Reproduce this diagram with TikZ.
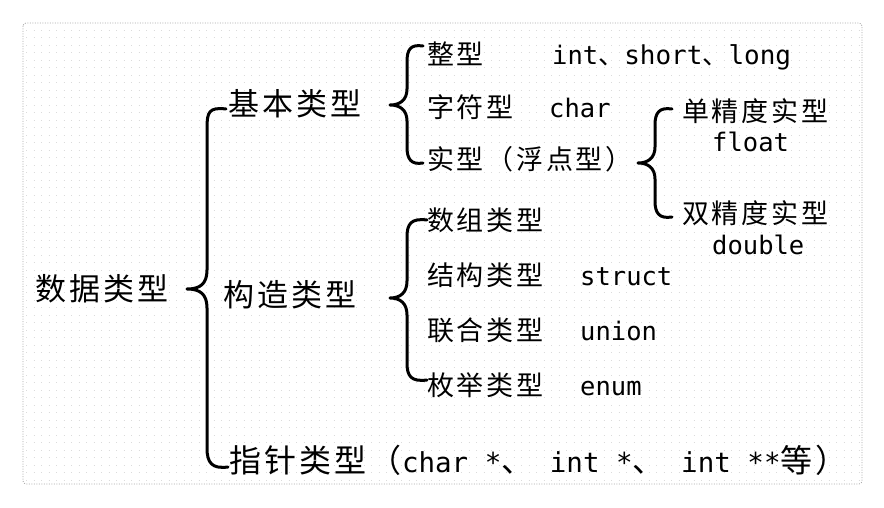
\documentclass[tikz,border=0pt]{standalone}
\usepackage{fontspec}
\newfontfamily\cjk[LetterSpace=10]{Noto Sans CJK SC}
\newfontfamily\mono{DejaVu Sans Mono}
\newcommand\ptrmono{\mono\fontsize{27.5}{32}\selectfont}
\newcommand\ptrcjk{\cjk\fontsize{32}{36}\selectfont}
\tikzset{
  big/.style={font=\cjk\fontsize{31}{36}\selectfont, anchor=base west, inner sep=0pt},
  small/.style={font=\cjk\fontsize{27}{32}\selectfont, anchor=base west, inner sep=0pt},
  lat/.style={font=\mono\fontsize{25.5}{30}\selectfont, anchor=base west, inner sep=0pt},
  bracestroke/.style={line width=3pt, line cap=round, line join=round},
  frame/.style={gray!70, dash pattern=on 1pt off 1.5pt, line width=0.8pt, rounded corners=3pt},
  griddots/.style={gray!28, line width=0.9pt, dash pattern=on 0.9pt off 6.6pt}
}
\begin{document}
\begin{tikzpicture}[x=1pt,y=-1pt]
\useasboundingbox (0,0) rectangle (884,508);
% faint dot grid
\foreach \yy in {30,37.5,...,480} {\draw[griddots] (26,\yy) -- (860,\yy);}
\draw[frame] (23,23) rectangle (862,484);

% texts
\node[big] (root) at (35,300) {数据类型};
\node[big] (basic) at (228,116) {基本类型};
\node[big] (cons) at (223,306) {构造类型};
\node[big] (ptr) at (229,472) {\ptrcjk 指针类型（\ptrmono char *\ptrcjk 、\ptrmono\ int *\ptrcjk 、\ptrmono\ int **\ptrcjk 等）};

\node[small] (int) at (427,65) {整型};
\node[lat] (intv) at (552,65) {int\cjk\fontsize{26}{30}\selectfont、\mono short\cjk、\mono long};
\node[small] (chr) at (427,118) {字符型};
\node[lat] (chrv) at (549,118) {char};
\node[small] (real) at (427,170) {实型（浮点型）};

\node[small] (single) at (682,122) {单精度实型};
\node[lat] (singlev) at (712,152) {float};
\node[small] (double) at (682,223) {双精度实型};
\node[lat] (doublev) at (712,254) {double};

\node[small] (arr) at (427,230) {数组类型};
\node[small] (st) at (427,285) {结构类型};
\node[lat] (stv) at (580,285) {struct};
\node[small] (un) at (427,340) {联合类型};
\node[lat] (unv) at (580,340) {union};
\node[small] (en) at (427,395) {枚举类型};
\node[lat] (env) at (580,395) {enum};

% brace end points
\coordinate (Atop) at (226,109); \coordinate (Atip) at (187,289); \coordinate (Abot) at (228,467);
\coordinate (Btop) at (423,46);  \coordinate (Btip) at (390,105); \coordinate (Bbot) at (423,163);
\coordinate (Ctop) at (672,109); \coordinate (Ctip) at (638,163); \coordinate (Cbot) at (672,217);
\coordinate (Dtop) at (427,220); \coordinate (Dtip) at (390,298); \coordinate (Dbot) at (427,380);

% braces
\draw[bracestroke] (Atop) .. controls (209,107) and (207,112) .. (207,128) -- (207,270)
  .. controls (207,284) and (200,289) .. (Atip) .. controls (200,289) and (207,294) .. (207,308) -- (207,448)
  .. controls (207,463) and (212,469) .. (Abot);
\draw[bracestroke] (Btop) .. controls (410,44) and (407,50) .. (407,62) -- (407,89)
  .. controls (407,100) and (400,105) .. (Btip) .. controls (400,105) and (407,110) .. (407,121) -- (407,147)
  .. controls (407,159) and (411,165) .. (Bbot);
\draw[bracestroke] (Ctop) .. controls (659,107) and (655,113) .. (655,125) -- (655,147)
  .. controls (655,158) and (648,163) .. (Ctip) .. controls (648,163) and (655,168) .. (655,179) -- (655,201)
  .. controls (655,213) and (659,219) .. (Cbot);
\draw[bracestroke] (Dtop) .. controls (411,218) and (407,224) .. (407,237) -- (407,281)
  .. controls (407,293) and (400,298) .. (Dtip) .. controls (400,298) and (407,303) .. (407,315) -- (407,363)
  .. controls (407,376) and (411,382) .. (Dbot);
\end{tikzpicture}
\end{document}
